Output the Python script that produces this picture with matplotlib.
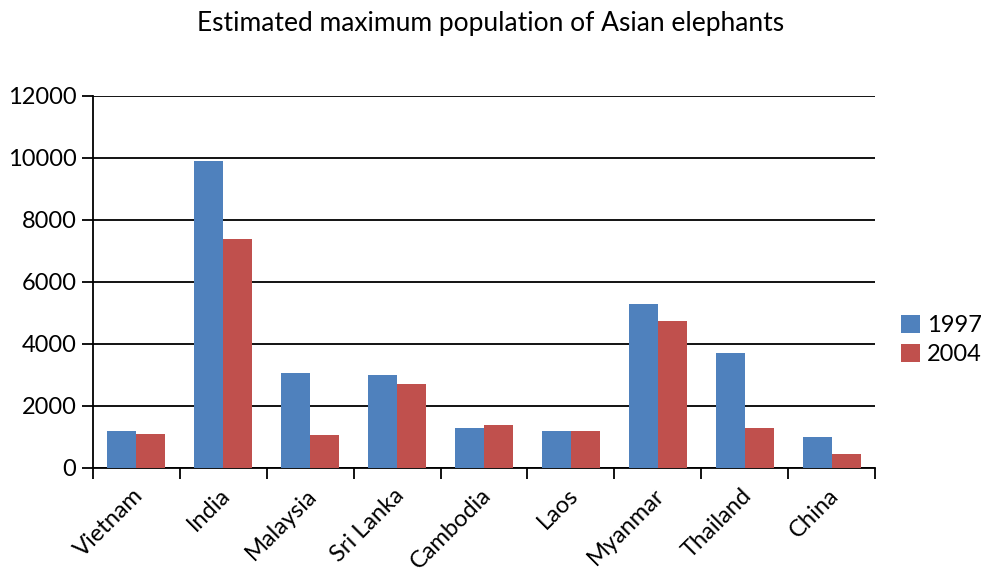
import matplotlib
matplotlib.use("Agg")
import matplotlib.pyplot as plt
import matplotlib.transforms as mtransforms
import numpy as np

categories = ["Vietnam", "India", "Malaysia", "Sri Lanka", "Cambodia", "Laos", "Myanmar", "Thailand", "China"]
series_names = ["1997", "2004"]
values_1997 = [1200, 9900, 3050, 3000, 1300, 1200, 5300, 3700, 1000]
values_2004 = [1100, 7400, 1050, 2700, 1400, 1200, 4750, 1300, 440]
yticks = [0, 2000, 4000, 6000, 8000, 10000, 12000]

plt.rcParams['font.family'] = ['Lato', 'DejaVu Sans']

fig = plt.figure(figsize=(9.81, 5.8), dpi=100)
ax = fig.add_axes([93/981, 1 - 468/580, (875-93)/981, (468-96)/580])

x = np.arange(len(categories))
w = 1/3
ax.bar(x - w/2, values_1997, width=w, color="#4F81BD", label=series_names[0], zorder=3)
ax.bar(x + w/2, values_2004, width=w, color="#C0504D", label=series_names[1], zorder=3)

ax.set_xlim(-0.5, len(categories) - 0.5)
ax.set_ylim(0, 12000)
ax.set_yticks(yticks)
ax.set_yticklabels([str(v) for v in yticks], fontsize=17)
ax.yaxis.grid(True, color="black", linewidth=1.3, zorder=0)
ax.set_axisbelow(True)
ax.tick_params(axis='y', length=8, width=1.3, direction='out', pad=4)

ax.set_xticks(x)
ax.set_xticklabels(categories, fontsize=17, rotation=45, ha='right', va='top', rotation_mode='anchor')
ax.tick_params(axis='x', which='major', length=0, pad=12)
ax.set_xticks(np.arange(-0.5, len(categories), 1), minor=True)
ax.tick_params(axis='x', which='minor', length=8, width=1.3, direction='out')
offset = mtransforms.ScaledTranslation(-4/100, 0, fig.dpi_scale_trans)
for lab in ax.get_xticklabels():
    lab.set_transform(lab.get_transform() + offset)

for s in ['top', 'right']:
    ax.spines[s].set_visible(False)
for s in ['left', 'bottom']:
    ax.spines[s].set_linewidth(1.3)
    ax.spines[s].set_color('black')

fig.text(0.5, 1 - 23/580, "Estimated maximum population of Asian elephants",
         ha='center', va='center', fontsize=19)

fig.legend(loc='center left', bbox_to_anchor=(896/981, 1 - 340/580), frameon=False,
           fontsize=17, handlelength=0.8, handleheight=0.8, handletextpad=0.3, labelspacing=0.35,
           borderaxespad=0, borderpad=0.2)

fig.savefig("out.png", dpi=100)
